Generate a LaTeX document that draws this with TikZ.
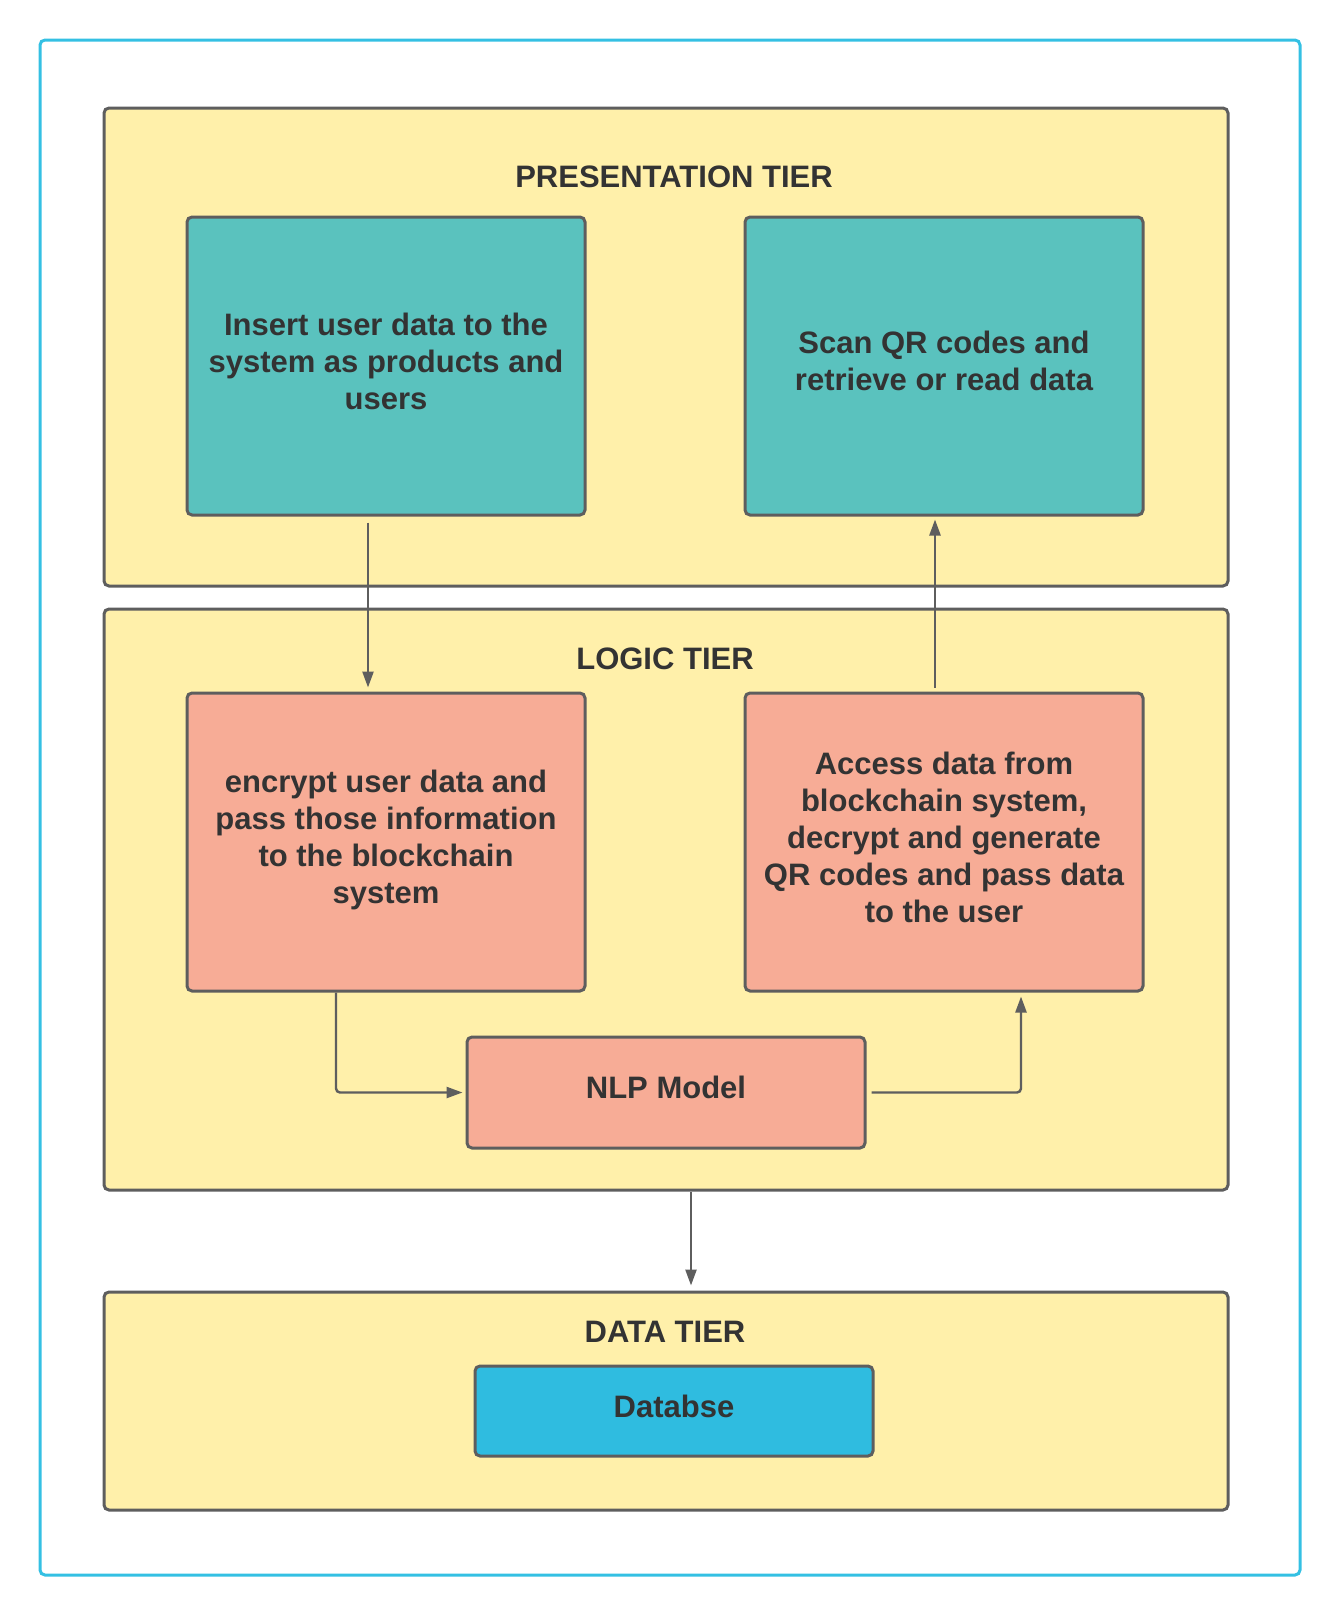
\documentclass[tikz,border=0pt]{standalone}
\usepackage{fontspec}
\setmainfont{Liberation Sans}
\usetikzlibrary{arrows.meta,positioning,calc}
\definecolor{tieryellow}{HTML}{FFF0AA}
\definecolor{presteal}{HTML}{5AC2BE}
\definecolor{logicsalmon}{HTML}{F7AC96}
\definecolor{dbblue}{HTML}{2FBCE0}
\definecolor{frameblue}{HTML}{34C0E3}
\definecolor{edgegray}{HTML}{5E5E5E}
\definecolor{txtgray}{HTML}{333333}
\tikzset{
  tier/.style={draw=edgegray, line width=1.5pt, fill=tieryellow, rounded corners=2.5pt, minimum width=562pt},
  blk/.style={draw=edgegray, line width=1.5pt, rounded corners=2.5pt, minimum width=199pt,
    align=center, text=txtgray, font=\bfseries\fontsize{15.5}{18.5}\selectfont,
    execute at end node={\rule[-5pt]{0pt}{5pt}}},
  ttl/.style={text=txtgray, font=\bfseries\fontsize{15.5}{18.5}\selectfont},
  flow/.style={-{Triangle[length=8pt,width=5.5pt]}, edgegray, line width=1.2pt, rounded corners=2pt},
}

\begin{document}
\begin{tikzpicture}[x=0.5pt,y=-0.5pt]
\useasboundingbox (0,0) rectangle (1340,1617);
\node[draw=frameblue, line width=1.5pt, rounded corners=2.5pt,
      minimum width=630pt, minimum height=767.5pt] (frame) at (670,807.5) {};
% tiers
\node[tier, minimum height=239pt] (pres) at (666,347) {};
\node[tier, minimum height=290.5pt] (logic) at (666,899.5) {};
\node[tier, minimum height=109pt] (data) at (666,1401) {};
\node[ttl] (prestitle) at (674,177) {PRESENTATION TIER};
\node[ttl] (logictitle) at (665,659) {LOGIC TIER};
\node[ttl] (datatitle) at (665,1332) {DATA TIER};
% boxes
\node[blk, fill=presteal, minimum height=149pt] (ins) at (386,366)
  {Insert user data to the\\system as products and\\users};
\node[blk, fill=presteal, minimum height=149pt] (scan) at (944,366)
  {Scan QR codes and\\retrieve or read data};
\node[blk, fill=logicsalmon, minimum height=149pt] (enc) at (386,842)
  {encrypt user data and\\pass those information\\to the blockchain\\system};
\node[blk, fill=logicsalmon, minimum height=149pt] (acc) at (944,842)
  {Access data from\\blockchain system,\\decrypt and generate\\QR codes and pass data\\to the user};
\node[blk, fill=logicsalmon, minimum height=55.5pt] (nlp) at (666,1092.5) {NLP Model};
\node[blk, fill=dbblue, minimum height=45pt] (db) at (674,1411) {Databse};
% connectors
\draw[flow, shorten <=3pt, shorten >=2pt] ([xshift=-9pt]ins.south) -- ([xshift=-9pt]enc.north);
\draw[flow, shorten <=2pt, shorten >=1.5pt] ([xshift=-4.5pt]acc.north) -- ([xshift=-4.5pt]scan.south);
\draw[flow, shorten >=1.5pt] ([xshift=-25pt]enc.south) |- (nlp.west);
\draw[flow, shorten <=2.5pt, shorten >=2pt] (nlp.east) -| ([xshift=38.5pt]acc.south);
\draw[flow, shorten >=2.5pt] ([xshift=12.5pt]logic.south) -- ([xshift=12.5pt]logic.south |- data.north);
\end{tikzpicture}
\end{document}
